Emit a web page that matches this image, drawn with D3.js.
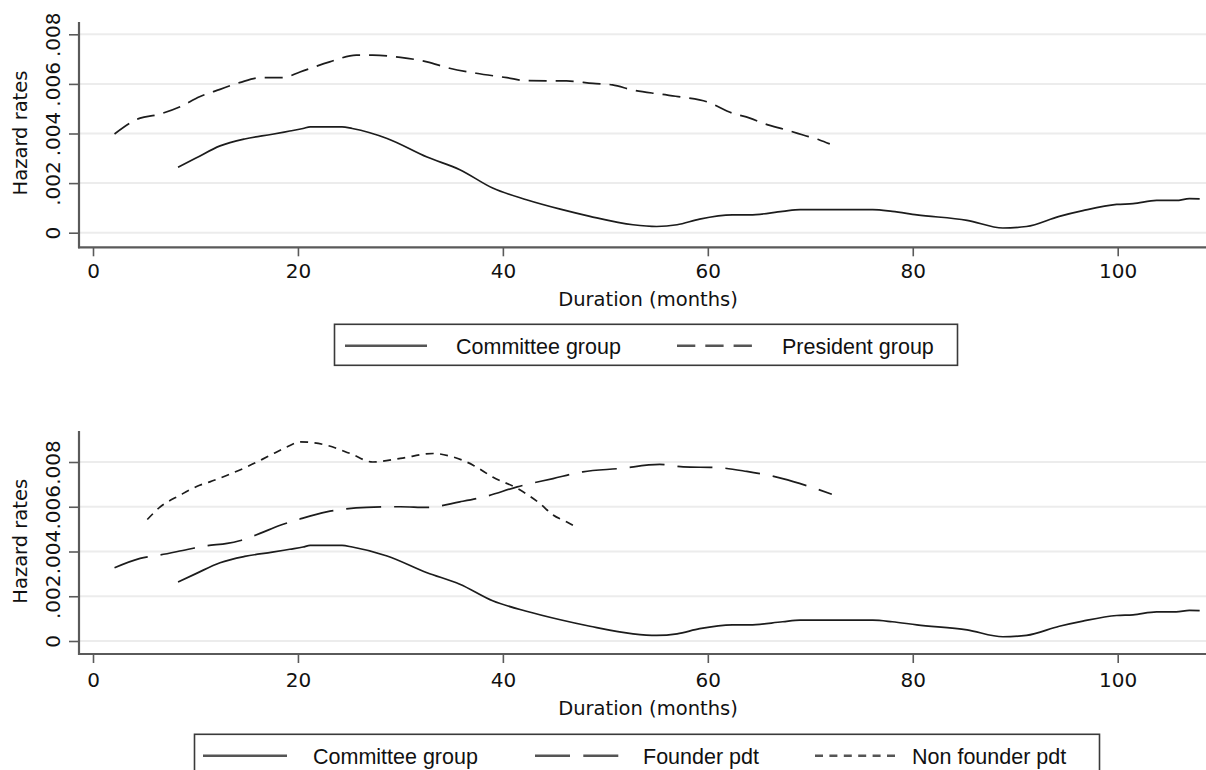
<!DOCTYPE html>
<html>
<head>
<meta charset="utf-8">
<script src="https://cdn.jsdelivr.net/npm/d3@7"></script>
<style>
  html, body { margin: 0; padding: 0; background: #ffffff; }
  svg { display: block; }
</style>
</head>
<body>
<svg id="chart" width="1206" height="770"></svg>
<script>
// ---------------- DATA ----------------
const xTicks = [0, 20, 40, 60, 80, 100];
const yTicks = [0, 0.002, 0.004, 0.006, 0.008];
const yTickLabels = ["0", ".002", ".004", ".006", ".008"];

const committeeMonths = [8.3, 10, 12.4, 14.8, 17.5, 19.2, 20.5, 21.2, 24.3, 25.3, 28.7, 32.6, 35.8, 39, 42.3, 45.6, 48.5, 52.7, 55, 57, 59.2, 62.4, 64.1, 67.3, 69, 76.1, 78, 80.4, 85.3, 88.8, 91.1, 94.3, 96.6, 99.9, 101.5, 103.8, 105.7, 107, 108];
const committeeRates = [0.00264, 0.0030, 0.0035, 0.00378, 0.00397, 0.0041, 0.0042, 0.00427, 0.00427, 0.0042, 0.0038, 0.00305, 0.00254, 0.0018, 0.00133, 0.00095, 0.00066, 0.00032, 0.00025, 0.00032, 0.00055, 0.00072, 0.00072, 0.00086, 0.00093, 0.00093, 0.00086, 0.00072, 0.0005, 0.00019, 0.00025, 0.00066, 0.00089, 0.00114, 0.00117, 0.0013, 0.0013, 0.00137, 0.00136];

const presidentMonths = [2.1, 4.6, 6.2, 8.5, 10.4, 12.4, 14.3, 16.3, 18.5, 20.2, 23.1, 25.7, 27.3, 30, 32.6, 34.8, 37.4, 40.4, 42.3, 46.2, 48.8, 50.7, 52.7, 55.3, 57.6, 59.9, 62.4, 64.1, 65.4, 67.7, 69.3, 70.9, 71.9];
const presidentRates = [0.00398, 0.00462, 0.00475, 0.00508, 0.00548, 0.00578, 0.00605, 0.00625, 0.00625, 0.00648, 0.00689, 0.00716, 0.00716, 0.00707, 0.00689, 0.00663, 0.00643, 0.00625, 0.00613, 0.00612, 0.00602, 0.00596, 0.00575, 0.00559, 0.00546, 0.00528, 0.00482, 0.00462, 0.00441, 0.00414, 0.00394, 0.00374, 0.00358];

const founderMonths = [2.1, 4.6, 6.5, 9.2, 11.1, 13.1, 14.3, 16.3, 18.2, 20.2, 22.8, 26.7, 30, 32.6, 35.8, 38.4, 41.4, 44.9, 47.8, 51.4, 55.3, 57.6, 60.9, 63.8, 67.3, 70, 72.1];
const founderRates = [0.00327, 0.00369, 0.00384, 0.00409, 0.00426, 0.00436, 0.00448, 0.00481, 0.00516, 0.00545, 0.00577, 0.00597, 0.006, 0.00597, 0.00622, 0.00647, 0.00689, 0.00726, 0.00756, 0.00771, 0.00789, 0.00778, 0.00775, 0.00758, 0.00726, 0.00689, 0.00656];

const nonFounderMonths = [5.3, 6.5, 8.5, 10.4, 11.4, 13.1, 15, 17, 18.9, 20.2, 22.8, 25.1, 27.3, 30, 33.2, 35.1, 37.1, 39, 41.4, 43.6, 44.9, 46.2, 47.3];
const nonFounderRates = [0.00543, 0.00597, 0.00652, 0.00696, 0.00711, 0.00741, 0.00778, 0.00823, 0.00867, 0.0089, 0.00875, 0.00838, 0.008, 0.00816, 0.00838, 0.00823, 0.00786, 0.00733, 0.00682, 0.00615, 0.00563, 0.00533, 0.00506];

const xTitle = "Duration (months)";
const yTitle = "Hazard rates";

// ---------------- DRAWING ----------------
const svg = d3.select("#chart");
const AXIS_FONT = "'DejaVu Sans', Verdana, sans-serif";
const LEG_FONT = "'Liberation Sans', Arial, sans-serif";
const AXIS_COLOR = "#5a5a5a";
const LINE_COLOR = "#1c1c1c";

const zip = (xs, ys) => xs.map((m, i) => ({ m: m, v: ys[i] }));

const x = d3.scaleLinear().domain([0, 100]).range([93, 1117.7]);

function panel(cfg) {
  const g = svg.append("g");
  const y = d3.scaleLinear().domain([0, 0.008]).range([cfg.y0, cfg.y8]);
  const axisX = 79, right = 1206;

  // gridlines
  g.append("g").selectAll("line").data(yTicks).join("line")
    .attr("x1", axisX).attr("x2", right)
    .attr("y1", d => y(d)).attr("y2", d => y(d))
    .attr("stroke", "#ececec").attr("stroke-width", 2);

  // y axis (ticks + labels)
  const ya = g.append("g").attr("transform", `translate(${axisX},0)`)
    .call(d3.axisLeft(y).tickValues(yTicks).tickSize(10)
      .tickFormat((d, i) => yTickLabels[i]));
  ya.select(".domain").remove();
  ya.selectAll(".tick line").attr("stroke", AXIS_COLOR).attr("stroke-width", 1.6);
  ya.selectAll(".tick text")
    .attr("transform", "rotate(-90)")
    .attr("x", 0).attr("y", -19).attr("dy", 0)
    .attr("text-anchor", "middle")
    .attr("fill", "#111")
    .style("font-family", AXIS_FONT).style("font-size", "20px");

  // x axis (ticks + labels)
  const xa = g.append("g").attr("transform", `translate(0,${cfg.axisY})`)
    .call(d3.axisBottom(x).tickValues(xTicks).tickSize(9).tickFormat(d3.format("d")));
  xa.select(".domain").remove();
  xa.selectAll(".tick line").attr("stroke", AXIS_COLOR).attr("stroke-width", 1.6);
  xa.selectAll(".tick text")
    .attr("y", cfg.xLabBase - cfg.axisY).attr("dy", 0)
    .attr("fill", "#111")
    .style("font-family", AXIS_FONT).style("font-size", "20px");

  // axis lines
  g.append("line").attr("x1", axisX).attr("x2", axisX)
    .attr("y1", cfg.top).attr("y2", cfg.axisY + 1)
    .attr("stroke", AXIS_COLOR).attr("stroke-width", 2.2);
  g.append("line").attr("x1", axisX - 1).attr("x2", right)
    .attr("y1", cfg.axisY).attr("y2", cfg.axisY)
    .attr("stroke", AXIS_COLOR).attr("stroke-width", 2.2);

  // titles
  g.append("text").text(xTitle)
    .attr("x", 648).attr("y", cfg.xTitleBase).attr("text-anchor", "middle")
    .attr("fill", "#111")
    .style("font-family", AXIS_FONT).style("font-size", "19.5px");
  g.append("text").text(yTitle)
    .attr("transform", `translate(26.5,${cfg.yTitleMid}) rotate(-90)`)
    .attr("text-anchor", "middle")
    .attr("fill", "#111")
    .style("font-family", AXIS_FONT).style("font-size", "19.5px");

  // series
  const line = d3.line().x(d => x(d.m)).y(d => y(d.v)).curve(d3.curveMonotoneX);
  cfg.series.forEach(s => {
    g.append("path").datum(s.data)
      .attr("d", line)
      .attr("fill", "none")
      .attr("stroke", LINE_COLOR)
      .attr("stroke-width", 1.7)
      .attr("stroke-dasharray", s.dash || null);
  });

  // legend
  const L = cfg.legend;
  g.append("rect").attr("x", L.x).attr("y", L.y).attr("width", L.w).attr("height", 41)
    .attr("fill", "#fff").attr("stroke", "#3a3a3a").attr("stroke-width", 1.6);
  L.items.forEach(it => {
    g.append("line").attr("x1", it.x1).attr("x2", it.x2)
      .attr("y1", L.y + 21.5).attr("y2", L.y + 21.5)
      .attr("stroke", "#555").attr("stroke-width", 2.4)
      .attr("stroke-dasharray", it.dash || null);
    g.append("text").text(it.label)
      .attr("x", it.tx).attr("y", L.y + 30)
      .attr("fill", "#111")
      .style("font-family", LEG_FONT).style("font-size", "21.5px");
  });
}

const DASH = "18,9";
const LONGDASH = "35,13";
const SHORTDASH = "8,6.4";

panel({
  y0: 232.7, y8: 34.3, top: 22, axisY: 247.3, xLabBase: 278.3, xTitleBase: 306, yTitleMid: 133,
  series: [
    { data: zip(committeeMonths, committeeRates) },
    { data: zip(presidentMonths, presidentRates), dash: DASH }
  ],
  legend: {
    x: 334.5, y: 324.3, w: 623,
    items: [
      { x1: 345, x2: 427, tx: 456, label: "Committee group" },
      { x1: 677, x2: 752, tx: 782, label: "President group", dash: "18.3,10" }
    ]
  }
});

panel({
  y0: 641, y8: 462, top: 431, axisY: 654, xLabBase: 686.7, xTitleBase: 715, yTitleMid: 541.3,
  series: [
    { data: zip(committeeMonths, committeeRates) },
    { data: zip(founderMonths, founderRates), dash: LONGDASH },
    { data: zip(nonFounderMonths, nonFounderRates), dash: SHORTDASH }
  ],
  legend: {
    x: 194.5, y: 734.3, w: 905,
    items: [
      { x1: 203, x2: 287, tx: 313, label: "Committee group" },
      { x1: 535, x2: 618.3, tx: 643, label: "Founder pdt", dash: "35,13.3" },
      { x1: 815, x2: 895, tx: 912, label: "Non founder pdt", dash: "8,6.4" }
    ]
  }
});
</script>
</body>
</html>
